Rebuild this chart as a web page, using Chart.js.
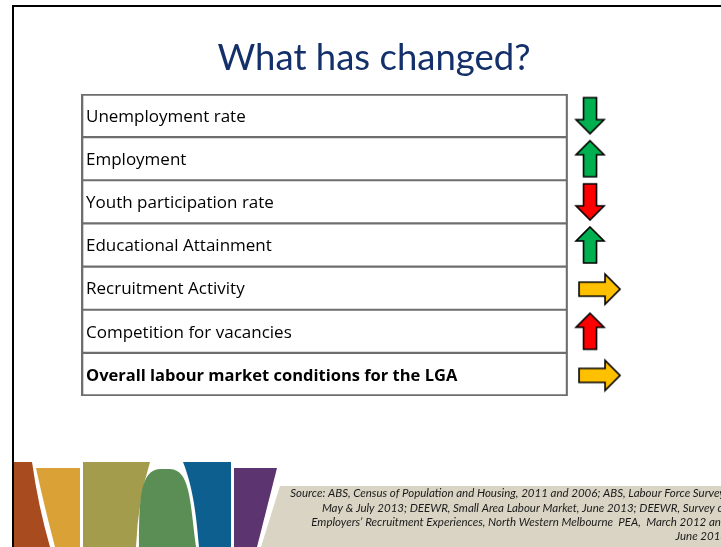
<!DOCTYPE html>
<html><head><meta charset="utf-8">
<style>html,body{margin:0;padding:0;background:#fff;overflow:hidden}#wrap{width:721px;height:547px;position:relative}canvas{display:block}</style>
<script src="https://cdn.jsdelivr.net/npm/chart.js@4.4.0/dist/chart.umd.min.js"></script>
</head><body><div id="wrap"><canvas id="c" width="721" height="547"></canvas></div>
<script>
// ---- data ----
const indicators = ['Unemployment rate','Employment','Youth participation rate','Educational Attainment','Recruitment Activity','Competition for vacancies','Overall labour market conditions for the LGA'];
const trend = ['down','up','down','up','right','up','right'];
const assessment = ['positive','positive','negative','positive','neutral','negative','neutral'];
const titleText = 'What has changed?';
const sourceLines = [
  'Source: ABS, Census of Population and Housing, 2011 and 2006; ABS, Labour Force Survey,',
  'May & July 2013; DEEWR, Small Area Labour Market, June 2013; DEEWR, Survey of',
  'Employers\u2019 Recruitment Experiences, North Western Melbourne  PEA,  March 2012 and',
  'June 2013'
];

// ---- layout / style ----
const TABLE_END = 80, ARROW_COL = 85, X_MAX = 99.3;
const assessColours = {positive:'#00B050', negative:'#FF0000', neutral:'#FFC000'};
const N = indicators.length;

function makeArrow(dir, fill) {
  const c = document.createElement('canvas'); c.width = 50; c.height = 42;
  const g = c.getContext('2d');
  let pts;
  if (dir === 'down' || dir === 'up') {
    const cx = 17, sw = 6.5, hw = 14, top = 3, bot = 39, head = 14;
    pts = dir === 'down'
      ? [[cx-sw,top],[cx+sw,top],[cx+sw,bot-head],[cx+hw,bot-head],[cx,bot],[cx-hw,bot-head],[cx-sw,bot-head]]
      : [[cx,top],[cx+hw,top+head],[cx+sw,top+head],[cx+sw,bot],[cx-sw,bot],[cx-sw,top+head],[cx-hw,top+head]];
  } else {
    const cy = 22, sh = 7, hh = 15, left = 6, right = 47, head = 15;
    pts = [[left,cy-sh],[right-head,cy-sh],[right-head,cy-hh],[right,cy],[right-head,cy+hh],[right-head,cy+sh],[left,cy+sh]];
  }
  g.beginPath();
  pts.forEach((p,i)=> i ? g.lineTo(p[0],p[1]) : g.moveTo(p[0],p[1]));
  g.closePath();
  g.fillStyle = fill; g.fill();
  g.lineWidth = 1.6; g.strokeStyle = '#000'; g.lineJoin = 'miter'; g.stroke();
  return c;
}
const arrowImgs = trend.map((d,i)=> makeArrow(d, assessColours[assessment[i]]));

const slidePlugin = {
  id: 'slide',
  beforeDraw(chart) {
    const g = chart.ctx;
    g.save();
    g.fillStyle = '#fff'; g.fillRect(0,0,721,547);
    g.fillStyle = '#000';
    g.fillRect(12,5,2,542); g.fillRect(12,5,709,2);
    const shapes = [
      ['#A84B1F', p=>{p.moveTo(14,462);p.lineTo(32,462);p.quadraticCurveTo(38,505,50,547);p.lineTo(14,547);}],
      ['#D9A136', p=>{p.moveTo(36,468);p.lineTo(80,468);p.lineTo(80,547);p.lineTo(55,547);p.quadraticCurveTo(44,505,36,468);}],
      ['#A39C4C', p=>{p.moveTo(83,462);p.lineTo(150,462);p.quadraticCurveTo(138,500,136,547);p.lineTo(83,547);}],
      ['#5A8E55', p=>{p.moveTo(139,547);p.bezierCurveTo(139,500,140,470,160,469);p.lineTo(170,469);p.bezierCurveTo(190,470,190,500,196,547);}],
      ['#0D5F8F', p=>{p.moveTo(183,462);p.lineTo(231,462);p.lineTo(231,547);p.lineTo(199,547);p.bezierCurveTo(196,510,192,485,183,462);}],
      ['#5C3470', p=>{p.moveTo(234,468);p.lineTo(277,468);p.lineTo(257,547);p.lineTo(234,547);}],
      ['#D9D4C4', p=>{p.moveTo(280,486);p.lineTo(721,486);p.lineTo(721,547);p.lineTo(261,547);}]
    ];
    shapes.forEach(([col,fn])=>{ g.beginPath(); fn(g); g.closePath(); g.fillStyle = col; g.fill(); });
    g.fillStyle = '#1a1a1a'; g.font = 'italic 11.5px Lato'; g.textAlign = 'right'; g.textBaseline = 'alphabetic';
    const ys = [497, 511.5, 525.5, 540];
    sourceLines.forEach((t,i)=> g.fillText(t, 727, ys[i]));
    g.restore();
  }
};

new Chart(document.getElementById('c'), {
  type: 'bar',
  data: {
    labels: indicators,
    datasets: [
      { type:'bar', data: indicators.map(()=>TABLE_END), backgroundColor:'rgba(0,0,0,0)', borderColor:'#6e6e6e',
        borderWidth: c => ({left:2, right:1.5, top: c.dataIndex === 0 ? 1.5 : 0.75, bottom: c.dataIndex === N-1 ? 1.5 : 0.75}),
        borderSkipped:false, barPercentage:1, categoryPercentage:1, order:2 },
      { type:'scatter', data: indicators.map(l=>({x:ARROW_COL, y:l})), pointStyle: arrowImgs, pointRadius: 20, order:1 }
    ]
  },
  options: {
    indexAxis: 'y', responsive: false, animation: false, events: [],
    layout: { padding: { top: 10, left: 63, right: 36, bottom: 151 } },
    scales: {
      x: { type:'linear', min:0, max:X_MAX, display:false },
      y: { type:'category', offset:true, grid:{display:false}, border:{display:false},
           ticks:{ mirror:true, padding:5, color:'#000', labelOffset:1.5,
                   font: c => (c.index === N-1 ? {family:'Open Sans', size:16.5, weight:'bold'} : {family:'Open Sans', size:17, weight:'normal'}) } }
    },
    plugins: {
      legend: {display:false}, tooltip: {enabled:false},
      title: { display:true, text:titleText, color:'#14306A', font:{family:'Lato', size:36.5, weight:'normal'}, padding:{top:26,bottom:14.2} }
    }
  },
  plugins: [slidePlugin]
});
</script></body></html>
